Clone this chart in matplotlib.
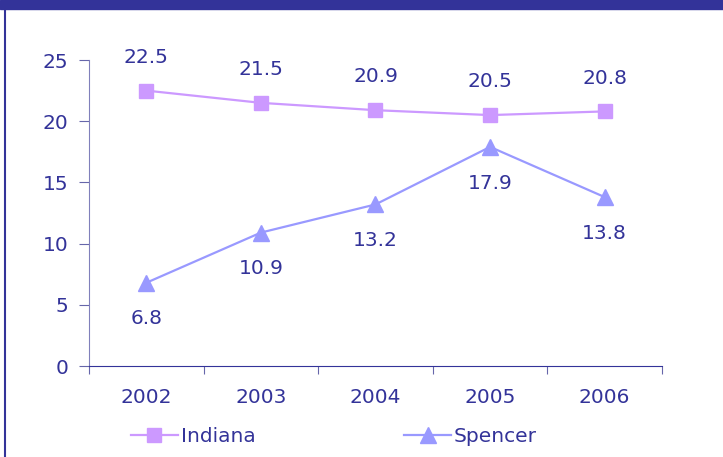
import matplotlib.pyplot as plt
from matplotlib.patches import Rectangle
from matplotlib.lines import Line2D

# Data
years = ["2002", "2003", "2004", "2005", "2006"]
indiana = [22.5, 21.5, 20.9, 20.5, 20.8]
spencer = [6.8, 10.9, 13.2, 17.9, 13.8]

navy = "#333399"
c_ind = "#CC99FF"
c_spe = "#9999FF"
fs = 14.5

fig = plt.figure(figsize=(7.23, 4.57), dpi=100)
ax = fig.add_axes([0.1231, 0.1991, 0.7925, 0.6696])

x = list(range(len(years)))
ax.plot(x, indiana, color=c_ind, lw=1.6, marker="s", ms=10.5, label="Indiana")
ax.plot(x, spencer, color=c_spe, lw=1.6, marker="^", ms=11, label="Spencer")

# value labels
for xi, v in zip(x, indiana):
    ax.annotate(f"{v:.1f}", (xi, v), xytext=(0, 24), textcoords="offset points",
                ha="center", va="center", color=navy, fontsize=fs)
for xi, v in zip(x, spencer):
    ax.annotate(f"{v:.1f}", (xi, v), xytext=(0, -26), textcoords="offset points",
                ha="center", va="center", color=navy, fontsize=fs)

ax.set_xlim(-0.5, len(years) - 0.5)
ax.set_ylim(0, 25)
ax.set_yticks([0, 5, 10, 15, 20, 25])
ax.set_xticks([i - 0.5 for i in range(len(years) + 1)], minor=False)
ax.set_xticklabels([])
ax.set_xticks(x, minor=True)
ax.set_xticklabels(years, minor=True)
ax.tick_params(axis="x", which="minor", length=0, pad=16, labelcolor=navy, labelsize=fs)
ax.tick_params(axis="x", which="major", direction="out", length=6, color="#6666AA")
ax.tick_params(axis="y", direction="out", length=7, color="#6666AA", labelcolor=navy,
               labelsize=fs, pad=8)

for s in ["top", "right"]:
    ax.spines[s].set_visible(False)
ax.spines["bottom"].set_color(navy)
ax.spines["left"].set_color("#8080BB")

# legend
handles = [Line2D([], [], color=c_ind, lw=1.6, marker="s", ms=10.5),
           Line2D([], [], color=c_spe, lw=1.6, marker="^", ms=11)]
fig.legend(handles, ["Indiana", "Spencer"], loc="center", bbox_to_anchor=(0.462, 0.045),
           ncol=2, frameon=False, fontsize=fs, labelcolor=navy, handlelength=2.3,
           handletextpad=0.15, columnspacing=7.4)

# frame pieces: header band and left border
fig.patches.append(Rectangle((0, 0.980), 1, 0.02, transform=fig.transFigure,
                             color=navy, zorder=0))
fig.lines.append(Line2D([0.0069, 0.0069], [0, 0.98], transform=fig.transFigure,
                        color=navy, lw=1.5))

fig.savefig("out.png", dpi=100)
